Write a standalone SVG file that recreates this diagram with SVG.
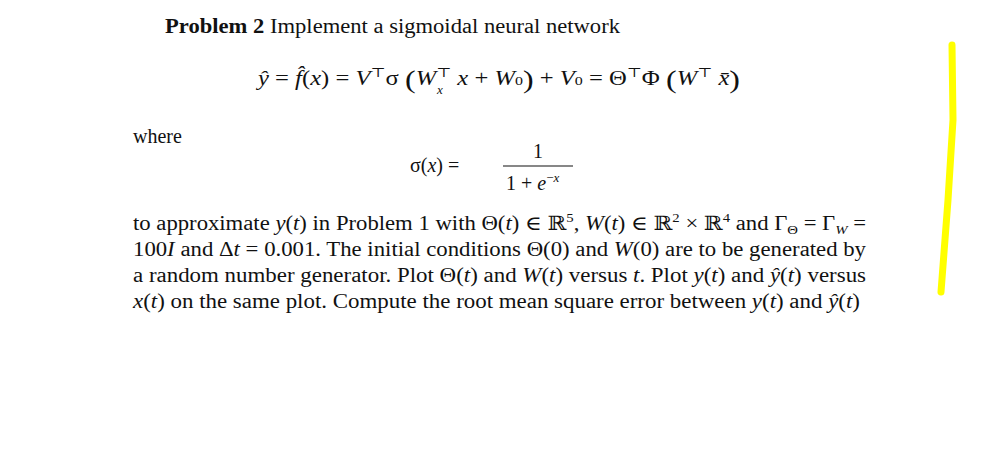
<svg xmlns="http://www.w3.org/2000/svg" width="990" height="449" viewBox="0 0 990 449">
<style>
text{font-family:"Liberation Serif","DejaVu Serif",serif;font-size:20px;fill:#111}
.i{font-style:italic}
.b{font-weight:bold}
.s{font-size:13px}
</style>
<rect width="990" height="449" fill="#fff"/>
<text x="165" y="33" textLength="455" lengthAdjust="spacingAndGlyphs"><tspan class="b">Problem 2</tspan> Implement a sigmoidal neural network</text>
<text x="258" y="85" textLength="482" lengthAdjust="spacingAndGlyphs"><tspan class="i">ŷ</tspan> = <tspan class="i">f̂</tspan>(<tspan class="i">x</tspan>) = <tspan class="i">V</tspan><tspan class="s" dy="-8">⊤</tspan><tspan dy="8">σ </tspan><tspan font-size="26" dy="3">(</tspan><tspan class="i" dy="-3">W</tspan><tspan class="s" dy="-8">⊤</tspan><tspan class="i" dy="8"> x</tspan> + <tspan class="i">W</tspan><tspan class="s">0</tspan><tspan font-size="26" dy="3">)</tspan><tspan dy="-3"> + </tspan><tspan class="i">V</tspan><tspan class="s">0</tspan> = Θ<tspan class="s" dy="-8">⊤</tspan><tspan dy="8">Φ </tspan><tspan font-size="26" dy="3">(</tspan><tspan class="i" dy="-3">W</tspan><tspan class="s" dy="-8">⊤</tspan><tspan class="i" dy="8"> x̄</tspan><tspan font-size="26" dy="3">)</tspan></text>
<text x="437" y="94" class="s i">x</text>
<text x="133" y="143">where</text>
<text x="410" y="172">σ(<tspan class="i">x</tspan>) =</text>
<text x="533" y="158">1</text>
<line x1="503" y1="166" x2="573" y2="166" stroke="#111" stroke-width="1.2"/>
<text x="506" y="190">1 + <tspan class="i">e</tspan><tspan class="s" dy="-8">−<tspan class="i">x</tspan></tspan></text>
<text x="133" y="230" textLength="733" lengthAdjust="spacingAndGlyphs">to approximate <tspan class="i">y</tspan>(<tspan class="i">t</tspan>) in Problem 1 with Θ(<tspan class="i">t</tspan>) ∈ ℝ<tspan class="s" dy="-8">5</tspan><tspan dy="8">, </tspan><tspan class="i">W</tspan>(<tspan class="i">t</tspan>) ∈ ℝ<tspan class="s" dy="-8">2</tspan><tspan dy="8"> × ℝ</tspan><tspan class="s" dy="-8">4</tspan><tspan dy="8"> and Γ</tspan><tspan class="s" dy="4">Θ</tspan><tspan dy="-4"> = Γ</tspan><tspan class="s i" dy="4">W</tspan><tspan dy="-4"> =</tspan></text>
<text x="133" y="256" textLength="733" lengthAdjust="spacingAndGlyphs">100<tspan class="i">I</tspan> and Δ<tspan class="i">t</tspan> = 0.001. The initial conditions Θ(0) and <tspan class="i">W</tspan>(0) are to be generated by</text>
<text x="133" y="282" textLength="733" lengthAdjust="spacingAndGlyphs">a random number generator. Plot Θ(<tspan class="i">t</tspan>) and <tspan class="i">W</tspan>(<tspan class="i">t</tspan>) versus <tspan class="i">t</tspan>. Plot <tspan class="i">y</tspan>(<tspan class="i">t</tspan>) and <tspan class="i">ŷ</tspan>(<tspan class="i">t</tspan>) versus</text>
<text x="133" y="308" textLength="727" lengthAdjust="spacingAndGlyphs"><tspan class="i">x</tspan>(<tspan class="i">t</tspan>) on the same plot. Compute the root mean square error between <tspan class="i">y</tspan>(<tspan class="i">t</tspan>) and <tspan class="i">ŷ</tspan>(<tspan class="i">t</tspan>)</text>
<path d="M952 45 L953 120 L948 200 L941 292" stroke="#ffff00" stroke-width="7" fill="none" stroke-linecap="round"/>
</svg>
